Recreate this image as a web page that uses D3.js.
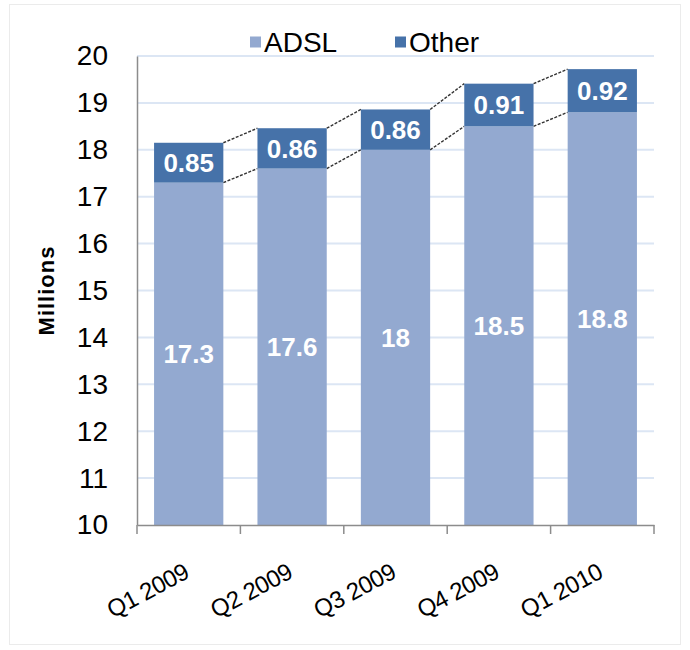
<!DOCTYPE html>
<html>
<head>
<meta charset="utf-8">
<script src="https://cdn.jsdelivr.net/npm/d3@7"></script>
<style>
  body { margin: 0; background: #fff; }
  text { font-family: "Liberation Sans", Arial, sans-serif; }
</style>
</head>
<body>
<div id="chart"></div>
<script>
// data
var quarters = ["Q1 2009", "Q2 2009", "Q3 2009", "Q4 2009", "Q1 2010"]
var adsl = [17.3, 17.6, 18, 18.5, 18.8]
var other = [0.85, 0.86, 0.86, 0.91, 0.92]
var seriesNames = ["ADSL", "Other"]
var yTicks = [10, 11, 12, 13, 14, 15, 16, 17, 18, 19, 20]

var colors = { ADSL: "#93a9d0", Other: "#4672a9" }

var W = 690, H = 650
var margin = { left: 137, right: 36, top: 56, bottom: 125 }

var svg = d3.select("#chart").append("svg")
  .attr("width", W).attr("height", H)

// faint frame round the chart
svg.append("rect")
  .attr("x", 9.5).attr("y", 4.5)
  .attr("width", W - 19).attr("height", H - 10)
  .attr("fill", "none").attr("stroke", "#ebebeb")

var x = d3.scaleBand()
  .domain(quarters)
  .range([margin.left, W - margin.right])
  .paddingInner(0.33).paddingOuter(0.165)

var y = d3.scaleLinear()
  .domain([10, 20])
  .range([H - margin.bottom, margin.top])

// gridlines
svg.append("g")
  .selectAll("line")
  .data(yTicks.slice(1))
  .enter().append("line")
    .attr("x1", margin.left).attr("x2", W - margin.right)
    .attr("y1", function(d) { return y(d) }).attr("y2", function(d) { return y(d) })
    .attr("stroke", "#dce6f4").attr("stroke-width", 2)

var rows = quarters.map(function(q, i) { return { q: q, ADSL: adsl[i], Other: other[i] } })
var stack = d3.stack().keys(seriesNames)(rows)
stack.forEach(function(s) { s.forEach(function(d) { if (d[0] === 0) d[0] = 10 }) })

// connector lines between bars (series lines)
stack.forEach(function(s) {
  for (var i = 0; i < s.length - 1; i++) {
    svg.append("line")
      .attr("x1", x(quarters[i]) + x.bandwidth())
      .attr("y1", y(s[i][1]))
      .attr("x2", x(quarters[i + 1]))
      .attr("y2", y(s[i + 1][1]))
      .attr("stroke", "#333").attr("stroke-width", 1.4)
      .attr("stroke-dasharray", "3,1.5")
  }
})

// bars
svg.append("g")
  .selectAll("g")
  .data(stack)
  .enter().append("g")
    .attr("fill", function(s) { return colors[s.key] })
  .selectAll("rect")
  .data(function(s) { return s })
  .enter().append("rect")
    .attr("x", function(d) { return x(d.data.q) })
    .attr("width", x.bandwidth())
    .attr("y", function(d) { return y(d[1]) })
    .attr("height", function(d) { return y(d[0]) - y(d[1]) })

// value labels
stack.forEach(function(s) {
  svg.append("g")
    .selectAll("text")
    .data(s)
    .enter().append("text")
      .attr("x", function(d) { return x(d.data.q) + x.bandwidth() / 2 })
      .attr("y", function(d) { return y((d[0] + d[1]) / 2) })
      .attr("dy", "0.36em")
      .attr("text-anchor", "middle")
      .attr("fill", "#fff")
      .style("font-size", "26px")
      .style("font-weight", "bold")
      .text(function(d) { return d.data[s.key] })
})

// y axis
var yAxis = svg.append("g")
  .attr("transform", "translate(" + margin.left + ",0)")
  .call(d3.axisLeft(y).tickValues(yTicks).tickSize(0).tickPadding(29))
yAxis.select(".domain").attr("stroke", "#8c8c8c").attr("stroke-width", 1.5)
yAxis.selectAll("text").style("font-size", "28px").attr("fill", "#000")

// x axis
var xAxis = svg.append("g")
  .attr("transform", "translate(0," + (H - margin.bottom) + ")")
  .call(d3.axisBottom(x).tickSize(0).tickFormat(""))
xAxis.select(".domain").attr("stroke", "#8c8c8c").attr("stroke-width", 1.5)

// x tick marks on band edges
var edges = quarters.map(function(q) { return x(q) - x.step() * x.paddingInner() / 2 })
edges.push(W - margin.right)
xAxis.selectAll(".edge")
  .data(edges)
  .enter().append("line")
    .attr("x1", function(d) { return d }).attr("x2", function(d) { return d })
    .attr("y1", 0).attr("y2", 9)
    .attr("stroke", "#8c8c8c").attr("stroke-width", 1.5)

xAxis.selectAll(".lbl")
  .data(quarters)
  .enter().append("text")
    .attr("transform", function(d) {
      return "translate(" + (x(d) + x.bandwidth() / 2 + 2) + ",52) rotate(-28)"
    })
    .attr("text-anchor", "end")
    .attr("fill", "#000")
    .style("font-size", "24px")
    .style("letter-spacing", "-0.5px")
    .text(function(d) { return d })

// y axis title
svg.append("text")
  .attr("transform", "translate(54," + ((margin.top + H - margin.bottom) / 2) + ") rotate(-90)")
  .attr("text-anchor", "middle")
  .style("font-size", "22px")
  .style("font-weight", "bold")
  .style("letter-spacing", "1px")
  .text("Millions")

// legend
var legend = svg.append("g").attr("transform", "translate(250,42)")
var legX = [0, 145]
seriesNames.forEach(function(n, i) {
  var g = legend.append("g").attr("transform", "translate(" + legX[i] + ",0)")
  g.append("rect").attr("x", 0).attr("y", -5.5).attr("width", 11).attr("height", 11)
    .attr("fill", colors[n])
  g.append("text").attr("x", 14).attr("dy", "0.36em")
    .style("font-size", "28px").text(n)
})
</script>
</body>
</html>
